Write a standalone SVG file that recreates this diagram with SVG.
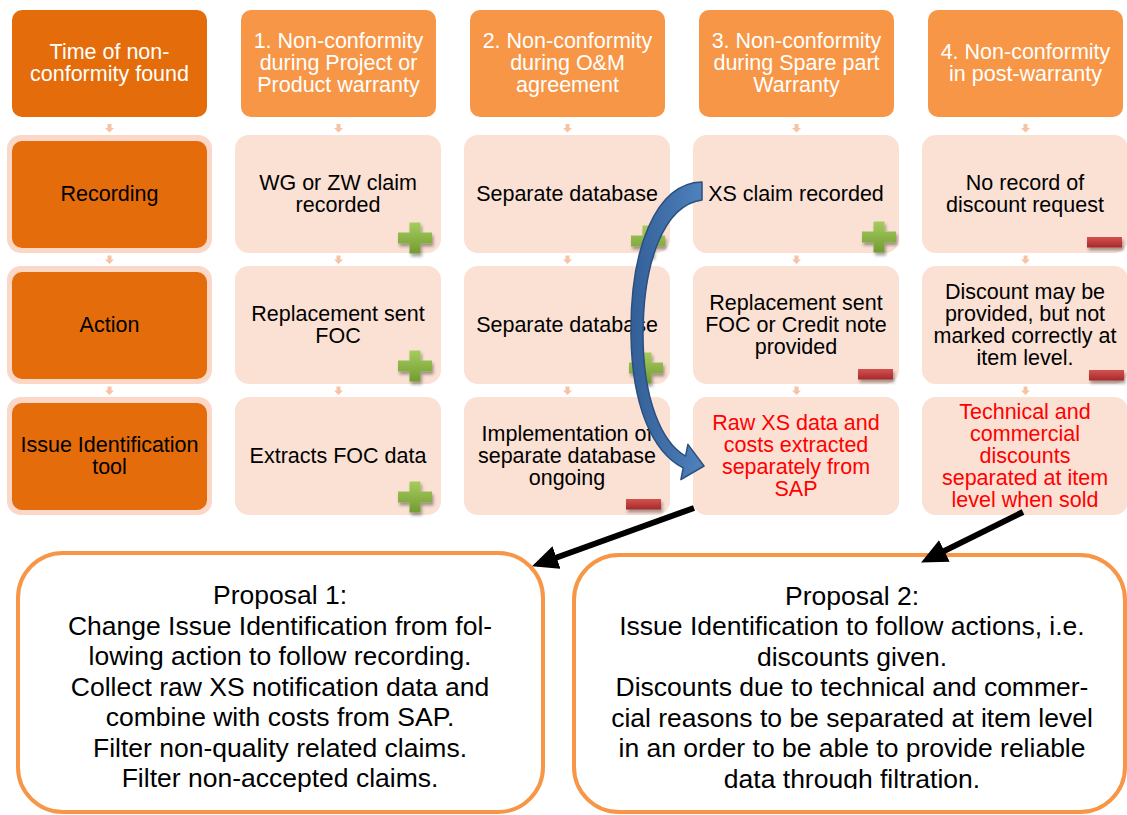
<svg xmlns="http://www.w3.org/2000/svg" width="1127" height="815" viewBox="0 0 1127 815">
  <style>
    .t { font-family: "Liberation Sans", Arial, sans-serif; font-size: 21.5px; text-anchor: middle; }
    .p { font-family: "Liberation Sans", Arial, sans-serif; font-size: 26.5px; text-anchor: middle; fill: #000; }
    .w { fill: #ffffff; }
    .k { fill: #000000; }
    .r { fill: #ff0000; }
    .hd0 { fill: #E46C0A; }
    .hd { fill: #F79646; }
    .rim { fill: #FAD7C6; }
    .lbl { fill: #E46C0A; }
    .cell { fill: #FBE0D4; }
    .step { fill: #F9C2A5; }
    .prop { fill: #ffffff; stroke: #F79646; stroke-width: 4; }
    .pointer { stroke: #000; stroke-width: 6; fill: none; marker-end: url(#head); }
  </style>
  <defs>
    <linearGradient id="gPlus" x1="0" y1="0" x2="0" y2="1">
      <stop offset="0" stop-color="#A6CC5E"/>
      <stop offset="1" stop-color="#729B31"/>
    </linearGradient>
    <linearGradient id="gMinus" x1="0" y1="0" x2="0" y2="1">
      <stop offset="0" stop-color="#D5524F"/>
      <stop offset="1" stop-color="#A5282A"/>
    </linearGradient>
    <linearGradient id="gBlue" x1="0" y1="0" x2="1" y2="0">
      <stop offset="0" stop-color="#335F97"/>
      <stop offset="1" stop-color="#4F82BE"/>
    </linearGradient>
    <filter id="shade" x="-30%" y="-30%" width="170%" height="180%">
      <feDropShadow dx="1.5" dy="3" stdDeviation="1.8" flood-color="#000" flood-opacity="0.35"/>
    </filter>
    <path id="plus" d="M -5.5 -15.5 h 11 v 10 h 11.5 v 11 h -11.5 v 10 h -11 v -10 h -11.5 v -11 h 11.5 z" fill="url(#gPlus)" filter="url(#shade)"/>
    <rect id="minus" x="0" y="0" width="35" height="10.5" fill="url(#gMinus)" filter="url(#shade)"/>
    <path id="step" d="M -2 0 h 4 v 4 h 2.5 l -4.5 4.5 l -4.5 -4.5 h 2.5 z"/>
    <marker id="head" markerUnits="userSpaceOnUse" viewBox="0 0 26 24" markerWidth="26" markerHeight="24" refX="5" refY="12" orient="auto">
      <path d="M0,0 L26,12 L0,24 z" fill="#000"/>
    </marker>
    <!-- text area of the second proposal box; the last line is cut at its baseline -->
    <clipPath id="clip2">
      <rect x="573" y="553" width="554" height="236"/>
    </clipPath>
  </defs>

  <!-- column headers -->
  <g id="hdr-time">
    <rect class="hd0" x="12" y="10" width="195" height="107" rx="10"/>
    <text class="t w" x="109.5" y="59">Time of non-</text>
    <text class="t w" x="109.5" y="81">conformity found</text>
  </g>
  <g id="hdr-warranty">
    <rect class="hd" x="241" y="10" width="195" height="107" rx="10"/>
    <text class="t w" x="338.5" y="48">1. Non-conformity</text>
    <text class="t w" x="338.5" y="70">during Project or</text>
    <text class="t w" x="338.5" y="92">Product warranty</text>
  </g>
  <g id="hdr-om">
    <rect class="hd" x="470" y="10" width="195" height="107" rx="10"/>
    <text class="t w" x="567.5" y="48">2. Non-conformity</text>
    <text class="t w" x="567.5" y="70">during O&amp;M</text>
    <text class="t w" x="567.5" y="92">agreement</text>
  </g>
  <g id="hdr-spare">
    <rect class="hd" x="699" y="10" width="195" height="107" rx="10"/>
    <text class="t w" x="796.5" y="48">3. Non-conformity</text>
    <text class="t w" x="796.5" y="70">during Spare part</text>
    <text class="t w" x="796.5" y="92">Warranty</text>
  </g>
  <g id="hdr-post">
    <rect class="hd" x="928" y="10" width="195" height="107" rx="10"/>
    <text class="t w" x="1025.5" y="59">4. Non-conformity</text>
    <text class="t w" x="1025.5" y="81">in post-warranty</text>
  </g>

  <!-- row labels -->
  <g id="lbl-recording">
    <rect class="rim" x="7" y="135" width="205" height="118" rx="14"/>
    <rect class="lbl" x="12" y="141" width="195" height="107" rx="10"/>
    <text class="t k" x="109.5" y="201">Recording</text>
  </g>
  <g id="lbl-action">
    <rect class="rim" x="7" y="266" width="205" height="118" rx="14"/>
    <rect class="lbl" x="12" y="272" width="195" height="107" rx="10"/>
    <text class="t k" x="109.5" y="332">Action</text>
  </g>
  <g id="lbl-tool">
    <rect class="rim" x="7" y="397" width="205" height="118" rx="14"/>
    <rect class="lbl" x="12" y="403" width="195" height="107" rx="10"/>
    <text class="t k" x="109.5" y="452">Issue Identification</text>
    <text class="t k" x="109.5" y="474">tool</text>
  </g>

  <!-- recording row -->
  <g id="rec-1">
    <rect class="cell" x="235" y="135" width="206" height="118" rx="14"/>
    <text class="t k" x="338" y="190">WG or ZW claim</text>
    <text class="t k" x="338" y="212">recorded</text>
    <use href="#plus" x="415" y="238"/>
  </g>
  <g id="rec-2">
    <rect class="cell" x="464" y="135" width="206" height="118" rx="14"/>
    <text class="t k" x="567" y="201">Separate database</text>
    <use href="#plus" x="648" y="241"/>
  </g>
  <g id="rec-3">
    <rect class="cell" x="693" y="135" width="206" height="118" rx="14"/>
    <text class="t k" x="796" y="201">XS claim recorded</text>
    <use href="#plus" x="879" y="237"/>
  </g>
  <g id="rec-4">
    <rect class="cell" x="922" y="135" width="206" height="118" rx="14"/>
    <text class="t k" x="1025" y="190">No record of</text>
    <text class="t k" x="1025" y="212">discount request</text>
    <use href="#minus" x="1087" y="237"/>
  </g>

  <!-- action row -->
  <g id="act-1">
    <rect class="cell" x="235" y="266" width="206" height="118" rx="14"/>
    <text class="t k" x="338" y="321">Replacement sent</text>
    <text class="t k" x="338" y="343">FOC</text>
    <use href="#plus" x="415" y="366"/>
  </g>
  <g id="act-2">
    <rect class="cell" x="464" y="266" width="206" height="118" rx="14"/>
    <text class="t k" x="567" y="332">Separate database</text>
    <use href="#plus" x="646" y="368"/>
  </g>
  <g id="act-3">
    <rect class="cell" x="693" y="266" width="206" height="118" rx="14"/>
    <text class="t k" x="796" y="310">Replacement sent</text>
    <text class="t k" x="796" y="332">FOC or Credit note</text>
    <text class="t k" x="796" y="354">provided</text>
    <use href="#minus" x="858" y="369"/>
  </g>
  <g id="act-4">
    <rect class="cell" x="922" y="266" width="206" height="118" rx="14"/>
    <text class="t k" x="1025" y="299">Discount may be</text>
    <text class="t k" x="1025" y="321">provided, but not</text>
    <text class="t k" x="1025" y="343">marked correctly at</text>
    <text class="t k" x="1025" y="365">item level.</text>
    <use href="#minus" x="1089" y="370"/>
  </g>

  <!-- identification tool row -->
  <g id="tool-1">
    <rect class="cell" x="235" y="397" width="206" height="118" rx="14"/>
    <text class="t k" x="338" y="463">Extracts FOC data</text>
    <use href="#plus" x="415" y="497"/>
  </g>
  <g id="tool-2">
    <rect class="cell" x="464" y="397" width="206" height="118" rx="14"/>
    <text class="t k" x="567" y="441">Implementation of</text>
    <text class="t k" x="567" y="463">separate database</text>
    <text class="t k" x="567" y="485">ongoing</text>
    <use href="#minus" x="626" y="499"/>
  </g>
  <g id="tool-3">
    <rect class="cell" x="693" y="397" width="206" height="118" rx="14"/>
    <text class="t r" x="796" y="430">Raw XS data and</text>
    <text class="t r" x="796" y="452">costs extracted</text>
    <text class="t r" x="796" y="474">separately from</text>
    <text class="t r" x="796" y="496">SAP</text>
  </g>
  <g id="tool-4">
    <rect class="cell" x="922" y="397" width="206" height="118" rx="14"/>
    <text class="t r" x="1025" y="419">Technical and</text>
    <text class="t r" x="1025" y="441">commercial</text>
    <text class="t r" x="1025" y="463">discounts</text>
    <text class="t r" x="1025" y="485">separated at item</text>
    <text class="t r" x="1025" y="507">level when sold</text>
  </g>

  <!-- proposals -->
  <g id="proposal-1">
    <rect class="prop" x="18" y="553" width="525" height="259" rx="45"/>
    <text class="p" x="280" y="604">Proposal 1:</text>
    <text class="p" x="280" y="634.5">Change Issue Identification from fol-</text>
    <text class="p" x="280" y="665">lowing action to follow recording.</text>
    <text class="p" x="280" y="695.5">Collect raw XS notification data and</text>
    <text class="p" x="280" y="726">combine with costs from SAP.</text>
    <text class="p" x="280" y="756.5">Filter non-quality related claims.</text>
    <text class="p" x="280" y="787">Filter non-accepted claims.</text>
  </g>
  <g id="proposal-2">
    <rect class="prop" x="574" y="555" width="551" height="257" rx="45"/>
    <g clip-path="url(#clip2)">
      <text class="p" x="852" y="604.5">Proposal 2:</text>
      <text class="p" x="852" y="635">Issue Identification to follow actions, i.e.</text>
      <text class="p" x="852" y="665.5">discounts given.</text>
      <text class="p" x="852" y="696">Discounts due to technical and commer-</text>
      <text class="p" x="852" y="726.5">cial reasons to be separated at item level</text>
      <text class="p" x="852" y="757">in an order to be able to provide reliable</text>
      <text class="p" x="852" y="788">data through filtration.</text>
    </g>
  </g>

  <!-- connectors -->
  <g id="connectors">
    <g class="step">
      <use href="#step" x="109.5" y="124"/>
      <use href="#step" x="338.5" y="124"/>
      <use href="#step" x="567.5" y="124"/>
      <use href="#step" x="796.5" y="124"/>
      <use href="#step" x="1025.5" y="124"/>
      <use href="#step" x="109.5" y="255.5"/>
      <use href="#step" x="338.5" y="255.5"/>
      <use href="#step" x="567.5" y="255.5"/>
      <use href="#step" x="796.5" y="255.5"/>
      <use href="#step" x="1025.5" y="255.5"/>
      <use href="#step" x="109.5" y="386.5"/>
      <use href="#step" x="338.5" y="386.5"/>
      <use href="#step" x="567.5" y="386.5"/>
      <use href="#step" x="796.5" y="386.5"/>
      <use href="#step" x="1025.5" y="386.5"/>
    </g>
    <path id="curved-arrow" d="M 702 182 C 655 183 630 250 631 335 C 632 405 652 452 683.2 467.9 L 680.9 479.6 L 704 466 L 687.9 444.4 L 685.6 456.1 C 662 443 643 400 643 335 C 643 262 664 205 702 200 Z" fill="url(#gBlue)" stroke="#2B4F7E" stroke-width="1.5" stroke-linejoin="round"/>
    <line class="pointer" x1="694" y1="508" x2="551.8" y2="559.2"/>
    <line class="pointer" x1="1023" y1="512" x2="939.9" y2="553.1"/>
  </g>
</svg>
